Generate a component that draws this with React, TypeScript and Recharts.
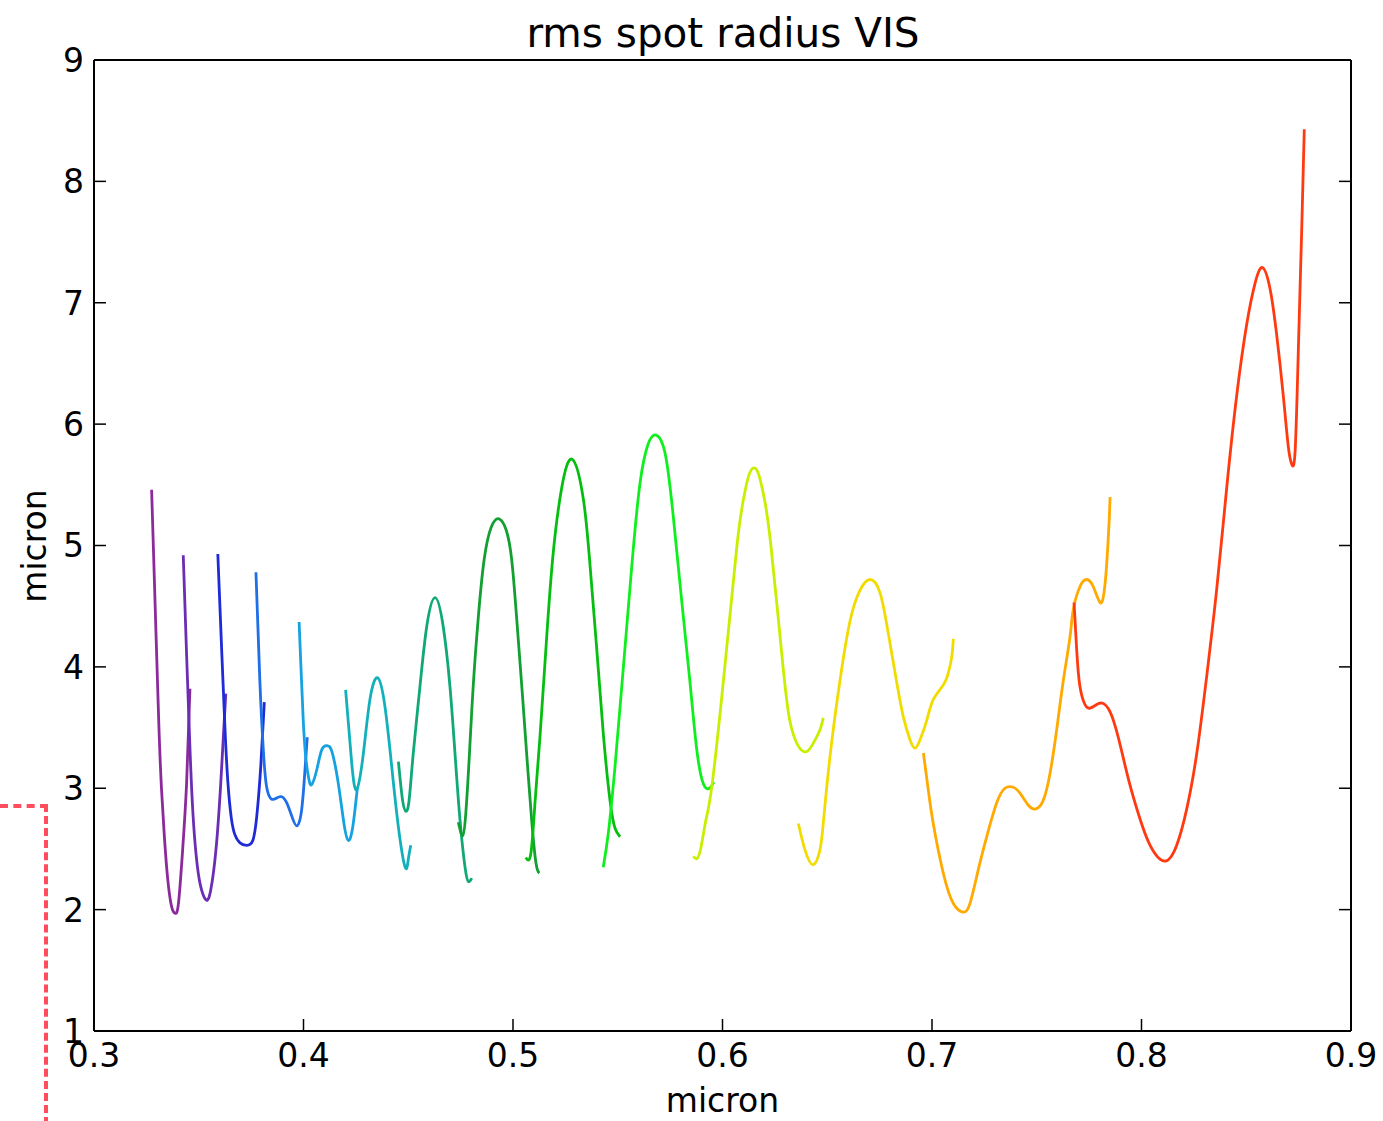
import React from "react";
import { Line, LineChart, XAxis, YAxis } from "recharts";

// one short spectral band per array: [wavelength (micron), rms spot radius (micron)]
const band01 = [[0.3275, 5.46], [0.3292, 4.5], [0.3309, 3.55], [0.3322, 3.0], [0.3336, 2.6], [0.3352, 2.25], [0.3371, 2.02], [0.3387, 1.97], [0.3403, 2.05], [0.3423, 2.49], [0.3442, 3.04], [0.3458, 3.82]];
const band02 = [[0.3426, 4.92], [0.3442, 4.1], [0.3458, 3.33], [0.3472, 2.8], [0.3488, 2.44], [0.3508, 2.2], [0.3535, 2.08], [0.3557, 2.16], [0.3582, 2.49], [0.3605, 3.04], [0.3629, 3.78]];
const band03 = [[0.3591, 4.93], [0.3608, 4.2], [0.3625, 3.5], [0.3639, 3.05], [0.3655, 2.76], [0.3672, 2.62], [0.3697, 2.55], [0.3729, 2.53], [0.3758, 2.57], [0.3777, 2.77], [0.3796, 3.18], [0.3813, 3.71]];
const band04 = [[0.3773, 4.78], [0.3792, 3.87], [0.3808, 3.32], [0.3824, 3.01], [0.3848, 2.91], [0.3872, 2.92], [0.3896, 2.93], [0.392, 2.88], [0.3944, 2.77], [0.3968, 2.69], [0.3991, 2.82], [0.4007, 3.15], [0.4018, 3.42]];
const band05 = [[0.3979, 4.37], [0.3989, 3.95], [0.3999, 3.55], [0.4011, 3.25], [0.4025, 3.08], [0.4039, 3.03], [0.4063, 3.15], [0.4088, 3.32], [0.4114, 3.35], [0.4136, 3.3], [0.4166, 3.04], [0.4193, 2.71], [0.4214, 2.57], [0.4235, 2.68], [0.4257, 3.0]];
const band06 = [[0.4201, 3.81], [0.423, 3.21], [0.4254, 2.99], [0.4286, 3.29], [0.4317, 3.73], [0.4354, 3.91], [0.4389, 3.67], [0.4421, 3.18], [0.4453, 2.68], [0.4485, 2.35], [0.45, 2.41], [0.4512, 2.53]];
const band07 = [[0.4453, 3.22], [0.4473, 2.9], [0.4489, 2.81], [0.4504, 2.9], [0.4524, 3.29], [0.4556, 3.84], [0.4588, 4.33], [0.4628, 4.57], [0.4667, 4.33], [0.4699, 3.84], [0.4723, 3.29], [0.4747, 2.74], [0.4771, 2.35], [0.4787, 2.23], [0.4803, 2.26]];
const band08 = [[0.4739, 2.72], [0.476, 2.61], [0.4775, 2.8], [0.4791, 3.25], [0.481, 3.84], [0.4834, 4.4], [0.4862, 4.88], [0.4896, 5.15], [0.4933, 5.22], [0.4967, 5.13], [0.4994, 4.88], [0.5018, 4.39], [0.5042, 3.84], [0.5065, 3.29], [0.5089, 2.74], [0.511, 2.38], [0.5126, 2.3]];
const band09 = [[0.5061, 2.43], [0.5085, 2.46], [0.5105, 2.88], [0.5129, 3.43], [0.5161, 4.25], [0.5192, 4.94], [0.5233, 5.48], [0.5283, 5.71], [0.5336, 5.38], [0.5368, 4.83], [0.54, 4.14], [0.5431, 3.45], [0.5463, 2.9], [0.5487, 2.67], [0.5511, 2.6]];
const band10 = [[0.5431, 2.35], [0.5455, 2.63], [0.5487, 3.18], [0.5527, 4.0], [0.5567, 4.83], [0.5606, 5.51], [0.5646, 5.84], [0.5683, 5.91], [0.5726, 5.76], [0.5765, 5.24], [0.5805, 4.55], [0.5845, 3.87], [0.5877, 3.32], [0.5908, 3.04], [0.5937, 3.0], [0.5959, 3.05]];
const band11 = [[0.5861, 2.44], [0.5877, 2.42], [0.5897, 2.51], [0.5921, 2.74], [0.5951, 3.04], [0.6011, 4.0], [0.6069, 5.0], [0.6102, 5.4], [0.6126, 5.58], [0.615, 5.64], [0.6174, 5.58], [0.6198, 5.4], [0.6231, 5.0], [0.6289, 4.0], [0.6322, 3.55], [0.6358, 3.36], [0.6399, 3.3], [0.6433, 3.37], [0.6465, 3.48], [0.6481, 3.58]];
const band12 = [[0.6362, 2.71], [0.6394, 2.49], [0.6433, 2.37], [0.6465, 2.49], [0.6481, 2.71], [0.6513, 3.26], [0.6561, 3.89], [0.6609, 4.38], [0.6656, 4.63], [0.6704, 4.72], [0.6752, 4.61], [0.6791, 4.28], [0.6832, 3.87], [0.6863, 3.59], [0.6895, 3.4], [0.6919, 3.33], [0.6943, 3.4], [0.6975, 3.56], [0.7006, 3.73], [0.7054, 3.85], [0.7078, 3.95], [0.7094, 4.08], [0.7102, 4.23]];
const band13 = [[0.6959, 3.29], [0.6982, 2.99], [0.7006, 2.71], [0.7054, 2.3], [0.7102, 2.05], [0.7147, 1.98], [0.7181, 2.05], [0.7221, 2.33], [0.7261, 2.6], [0.7309, 2.88], [0.7348, 3.0], [0.7385, 3.01], [0.742, 2.96], [0.746, 2.86], [0.7496, 2.83], [0.7531, 2.9], [0.7563, 3.12], [0.7595, 3.48], [0.7627, 3.89], [0.7659, 4.25], [0.7674, 4.47], [0.7706, 4.66], [0.7738, 4.72], [0.777, 4.66], [0.7802, 4.53], [0.7821, 4.61], [0.7834, 4.85], [0.7845, 5.18], [0.785, 5.4]];
const band14 = [[0.7678, 4.53], [0.7691, 4.13], [0.7706, 3.84], [0.773, 3.69], [0.7754, 3.66], [0.7786, 3.69], [0.7815, 3.7], [0.785, 3.63], [0.7889, 3.42], [0.7937, 3.08], [0.7985, 2.79], [0.8041, 2.53], [0.8112, 2.4], [0.8168, 2.53], [0.8216, 2.83], [0.8264, 3.29], [0.8311, 3.92], [0.8359, 4.64], [0.8407, 5.48], [0.8454, 6.23], [0.8502, 6.82], [0.8542, 7.16], [0.8577, 7.29], [0.8613, 7.12], [0.8645, 6.74], [0.8677, 6.23], [0.8701, 5.81], [0.8717, 5.67], [0.8733, 5.77], [0.8748, 6.57], [0.8765, 7.62], [0.8777, 8.43]];

const bandColors = ["#8c2a9c", "#6a2db4", "#1e2bd6", "#1f6fe8", "#16a2e0", "#12b0ba", "#10a878", "#12a032", "#06be10", "#10ee20", "#c6f000", "#f2dc00", "#ffaa00", "#ff3a10"];
const bandData = [band01, band02, band03, band04, band05, band06, band07, band08, band09, band10, band11, band12, band13, band14];

const xTicks = [0.3, 0.4, 0.5, 0.6, 0.7, 0.8, 0.9];
const yTicks = [1, 2, 3, 4, 5, 6, 7, 8, 9];

const FONT = "DejaVu Sans";
const TICK_LEN = 12;

const series = bandData.map((pts, i) => ({
  key: `band${i + 1}`,
  color: bandColors[i],
  data: pts.map(([x, y]) => ({ x, y })),
}));

function BottomTick({ x, y, payload }: any) {
  return (
    <g>
      <line x1={x} x2={x} y1={y} y2={y - TICK_LEN} stroke="#000" strokeWidth={1.5} />
      <text x={x} y={y + 12} dy="0.73em" textAnchor="middle" fontSize={33} fontFamily={FONT} fill="#000">
        {payload.value.toFixed(1)}
      </text>
    </g>
  );
}

function TopTick({ x, y }: any) {
  return <line x1={x} x2={x} y1={y} y2={y + TICK_LEN} stroke="#000" strokeWidth={1.5} />;
}

function LeftTick({ x, y, payload }: any) {
  return (
    <g>
      <line x1={x} x2={x + TICK_LEN} y1={y} y2={y} stroke="#000" strokeWidth={1.5} />
      <text x={x - 10} y={y} dy="0.36em" textAnchor="end" fontSize={33} fontFamily={FONT} fill="#000">
        {payload.value}
      </text>
    </g>
  );
}

function RightTick({ x, y }: any) {
  return <line x1={x} x2={x - TICK_LEN} y1={y} y2={y} stroke="#000" strokeWidth={1.5} />;
}

export default function App() {
  const frame = { stroke: "#000", strokeWidth: 2 };
  return (
    <div style={{ position: "absolute", left: 0, top: 0, width: 1383, height: 1121, background: "#fff", overflow: "hidden" }}>
      <LineChart width={1383} height={1121} margin={{ top: 40, right: 12, bottom: 50, left: 34 }}>
        <XAxis
          type="number"
          dataKey="x"
          domain={[0.3, 0.9]}
          ticks={xTicks}
          allowDataOverflow
          height={40}
          tickSize={0}
          tickMargin={0}
          tickLine={false}
          axisLine={frame}
          tick={<BottomTick />}
          interval={0}
        />
        <XAxis
          xAxisId="top"
          orientation="top"
          type="number"
          domain={[0.3, 0.9]}
          ticks={xTicks}
          allowDataOverflow
          height={20}
          tickSize={0}
          tickMargin={0}
          tickLine={false}
          axisLine={frame}
          tick={<TopTick />}
          interval={0}
        />
        <YAxis
          type="number"
          domain={[1, 9]}
          ticks={yTicks}
          allowDataOverflow
          width={60}
          tickSize={0}
          tickMargin={0}
          tickLine={false}
          axisLine={frame}
          tick={<LeftTick />}
          interval={0}
        />
        <YAxis
          yAxisId="right"
          orientation="right"
          type="number"
          domain={[1, 9]}
          ticks={yTicks}
          allowDataOverflow
          width={20}
          tickSize={0}
          tickMargin={0}
          tickLine={false}
          axisLine={frame}
          tick={<RightTick />}
          interval={0}
        />
        {series.map((s) => (
          <Line
            key={s.key}
            data={s.data}
            dataKey="y"
            type="natural"
            stroke={s.color}
            strokeWidth={2.8}
            dot={false}
            activeDot={false}
            isAnimationActive={false}
          />
        ))}
      </LineChart>
      <svg width={1383} height={1121} style={{ position: "absolute", left: 0, top: 0, pointerEvents: "none" }}>
        <text x={723} y={47} textAnchor="middle" fontSize={40.5} fontFamily={FONT} fill="#000">
          rms spot radius VIS
        </text>
        <text x={722.5} y={1112} textAnchor="middle" fontSize={33} fontFamily={FONT} fill="#000">
          micron
        </text>
        <text x={46} y={546} textAnchor="middle" fontSize={33} fontFamily={FONT} fill="#000" transform="rotate(-90 46 546)">
          micron
        </text>
      </svg>
      <div
        style={{
          position: "absolute",
          left: 0,
          top: 804,
          width: 44,
          height: 317,
          borderTop: "4px dashed #ff4d5e",
          borderRight: "4px dashed #ff4d5e",
        }}
      />
    </div>
  );
}
